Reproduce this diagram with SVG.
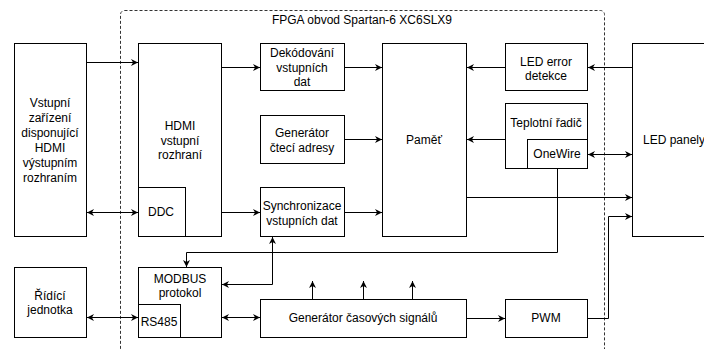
<svg xmlns="http://www.w3.org/2000/svg" width="704" height="349" viewBox="0 0 704 349">
<style>
.b{fill:#fff;stroke:#000;stroke-width:1}
.s{fill:none;stroke:#000;stroke-width:1}
.c{fill:none;stroke:#000;stroke-width:1}
text{font-family:"Liberation Sans",Arial,sans-serif;font-size:12px;fill:#000;text-anchor:middle;dominant-baseline:central}
</style>
<defs>
<marker id="a" viewBox="0 0 10 10" refX="10" refY="5" markerWidth="7" markerHeight="7" orient="auto-start-reverse" markerUnits="userSpaceOnUse">
<path d="M0,0 L10,5 L0,10 L3,5 Z" fill="#000"/>
</marker>
</defs>
<rect x="120.5" y="10.5" width="484" height="360" rx="4" fill="none" stroke="#333" stroke-dasharray="3 2"/>
<text x="362" y="20">FPGA obvod Spartan-6 XC6SLX9</text>

<g id="vstupni"><rect class="b" x="14.5" y="43.5" width="72" height="193"/>
<text x="50" y="103">Vstupní</text><text x="50" y="118">zařízení</text><text x="50" y="133">disponující</text><text x="50" y="148">HDMI</text><text x="50" y="163">výstupním</text><text x="50" y="178">rozhraním</text></g>

<g id="hdmi"><rect class="b" x="138.5" y="43.5" width="83" height="193"/>
<text x="180" y="126">HDMI</text><text x="180" y="141">vstupní</text><text x="180" y="155">rozhraní</text></g>
<g id="ddc"><rect class="b" x="138.5" y="187.5" width="47" height="49"/><text x="161" y="212">DDC</text></g>

<g id="dekodovani"><rect class="b" x="260.5" y="43.5" width="84" height="47"/>
<text x="302" y="53">Dekódování</text><text x="302" y="68">vstupních</text><text x="302" y="82">dat</text></g>
<g id="generator-ctec"><rect class="b" x="260.5" y="115.5" width="84" height="48"/>
<text x="302" y="133">Generátor</text><text x="302" y="148">čtecí adresy</text></g>
<g id="synchronizace"><rect class="b" x="260.5" y="187.5" width="84" height="49"/>
<text x="302" y="206">Synchronizace</text><text x="302" y="221">vstupních dat</text></g>

<g id="pamet"><rect class="b" x="382.5" y="43.5" width="84" height="193"/><text x="424" y="140">Paměť</text></g>

<g id="led-error"><rect class="b" x="505.5" y="43.5" width="82" height="47"/>
<text x="546" y="62">LED error</text><text x="546" y="76">detekce</text></g>
<g id="teplotni"><rect class="b" x="505.5" y="103.5" width="82" height="65"/><text x="546" y="123">Teplotní řadič</text></g>
<g id="onewire"><rect class="b" x="527.5" y="139.5" width="60" height="29"/><text x="557" y="154">OneWire</text></g>

<g id="led-panely"><rect class="b" x="632.5" y="43.5" width="80" height="193"/><text x="643" y="140" style="text-anchor:start">LED panely</text></g>

<g id="ridici"><rect class="b" x="14.5" y="267.5" width="72" height="70"/>
<text x="50" y="296">Řídící</text><text x="50" y="310">jednotka</text></g>
<g id="modbus"><rect class="b" x="138.5" y="267.5" width="83" height="70"/>
<text x="180" y="279">MODBUS</text><text x="180" y="293">protokol</text></g>
<g id="rs485"><rect class="b" x="138.5" y="304.5" width="42" height="33"/><text x="159" y="322">RS485</text></g>
<g id="generator-cas"><rect class="b" x="260.5" y="299.5" width="206" height="38"/><text x="363" y="318">Generátor časových signálů</text></g>
<g id="pwm"><rect class="b" x="505.5" y="299.5" width="82" height="38"/><text x="546" y="318">PWM</text></g>

<g id="connectors">
<path class="c" d="M86.5,62.5 H138" marker-end="url(#a)"/>
<path class="c" d="M221.5,67.5 H260" marker-end="url(#a)"/>
<path class="c" d="M344.5,67.5 H382" marker-end="url(#a)"/>
<path class="c" d="M344.5,139.5 H382" marker-end="url(#a)"/>
<path class="c" d="M505.5,139.5 H467" marker-end="url(#a)"/>
<path class="c" d="M505.5,67.5 H467" marker-end="url(#a)"/>
<path class="c" d="M632.5,67.5 H588" marker-end="url(#a)"/>
<path class="c" d="M588,154.5 H632" marker-start="url(#a)" marker-end="url(#a)"/>
<path class="c" d="M87,212.5 H138" marker-start="url(#a)" marker-end="url(#a)"/>
<path class="c" d="M221.5,212.5 H260" marker-end="url(#a)"/>
<path class="c" d="M344.5,212.5 H382" marker-end="url(#a)"/>
<path class="c" d="M466.5,197.5 H632" marker-end="url(#a)"/>
<path class="c" d="M587.5,318.5 H608.5 V216.5 H632" marker-end="url(#a)"/>
<path class="c" d="M557.5,168.5 V252.5 H186.5 V267" marker-end="url(#a)"/>
<path class="c" d="M272.5,237 V284.5 H222" marker-start="url(#a)" marker-end="url(#a)"/>
<path class="c" d="M222,317.5 H260" marker-start="url(#a)" marker-end="url(#a)"/>
<path class="c" d="M87,317.5 H138" marker-start="url(#a)" marker-end="url(#a)"/>
<path class="c" d="M466.5,318.5 H505" marker-end="url(#a)"/>
<path class="c" d="M312.5,299.5 V281" marker-end="url(#a)"/>
<path class="c" d="M363.5,299.5 V281" marker-end="url(#a)"/>
<path class="c" d="M412.5,299.5 V281" marker-end="url(#a)"/>
</g>
</svg>
